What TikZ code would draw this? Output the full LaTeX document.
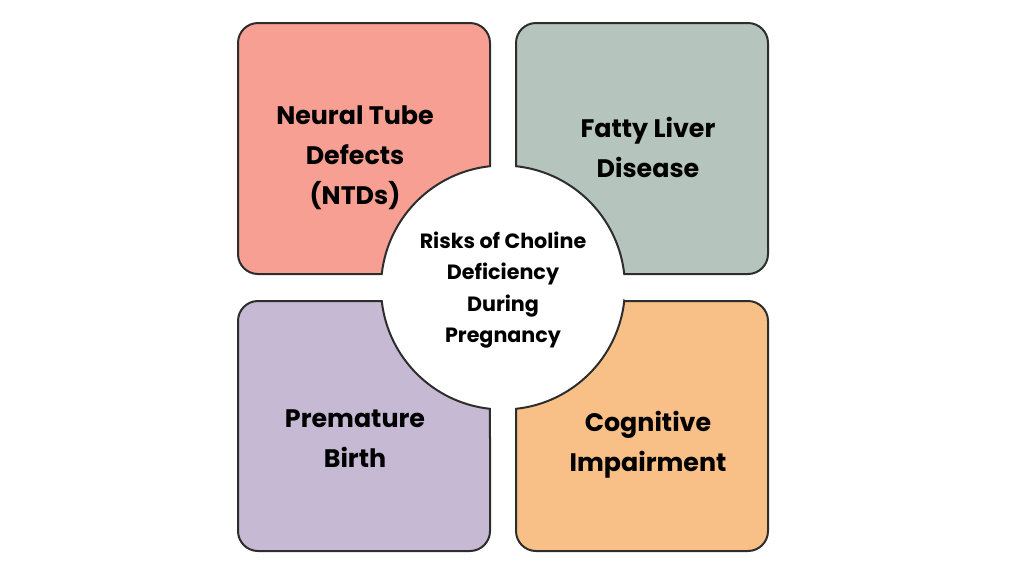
\documentclass[tikz,border=0pt]{standalone}
\usepackage{fontspec}
\setmainfont{Poppins}

\definecolor{ntdred}{RGB}{246,159,146}
\definecolor{liversage}{RGB}{181,197,190}
\definecolor{birthlilac}{RGB}{198,185,211}
\definecolor{mindorange}{RGB}{248,192,134}
\definecolor{edgegray}{RGB}{45,45,45}

\tikzset{every picture/.style={line width=0.75pt}}
\tikzset{
  petal/.style={draw=edgegray, line width=1.5},
  petallabel/.style={align=center, inner sep=0.75pt, font=\bfseries\fontsize{19}{30}\selectfont},
  hublabel/.style={align=center, inner sep=0.75pt, font=\bfseries\fontsize{15.5}{23.5}\selectfont}
}

\begin{document}
\begin{tikzpicture}[x=0.75pt,y=0.75pt,yscale=-1,xscale=1]
            \useasboundingbox (0,0) rectangle (1024,576);

            %Shape: Rounded Square Cut [id:ntd] 
            \draw [petal, fill=ntdred] (258,23) -- (470,23) arc[start angle=-90, end angle=0, radius=20] -- (490,166.2) arc[start angle=-96.12, end angle=-173.65, radius=122] -- (258,274) arc[start angle=90, end angle=180, radius=20] -- (238,43) arc[start angle=180, end angle=270, radius=20] -- cycle ;
            %Shape: Rounded Square Cut [id:liver] 
            \draw [petal, fill=liversage] (536,23) -- (748,23) arc[start angle=-90, end angle=0, radius=20] -- (768,254) arc[start angle=0, end angle=90, radius=20] -- (624.25,274) arc[start angle=-6.35, end angle=-83.88, radius=122] -- (516,43) arc[start angle=180, end angle=270, radius=20] -- cycle ;
            %Shape: Rounded Square Cut [id:birth] 
            \draw [petal, fill=birthlilac] (258,301) -- (381.75,301) arc[start angle=173.65, end angle=96.12, radius=122] -- (490,531) arc[start angle=0, end angle=90, radius=20] -- (258,551) arc[start angle=90, end angle=180, radius=20] -- (238,321) arc[start angle=180, end angle=270, radius=20] -- cycle ;
            %Shape: Rounded Square Cut [id:mind] 
            \draw [petal, fill=mindorange] (624.25,301) -- (748,301) arc[start angle=-90, end angle=0, radius=20] -- (768,531) arc[start angle=0, end angle=90, radius=20] -- (536,551) arc[start angle=90, end angle=180, radius=20] -- (516,408.8) arc[start angle=83.88, end angle=6.35, radius=122] -- cycle ;

            % Text Node
            \node [petallabel] (ntd) at (355,158) {Neural Tube\\Defects\\(NTDs)};
            % Text Node
            \node [petallabel] (liver) at (648,147) {Fatty Liver\\Disease};
            % Text Node
            \node [petallabel] (birth) at (355,439) {Premature\\Birth};
            % Text Node
            \node [petallabel] (mind) at (648,445) {Cognitive\\Impairment};
            % Text Node
            \node [hublabel] (hub) at (503,290) {Risks of Choline\\Deficiency\\During\\Pregnancy};

        \end{tikzpicture}
\end{document}
